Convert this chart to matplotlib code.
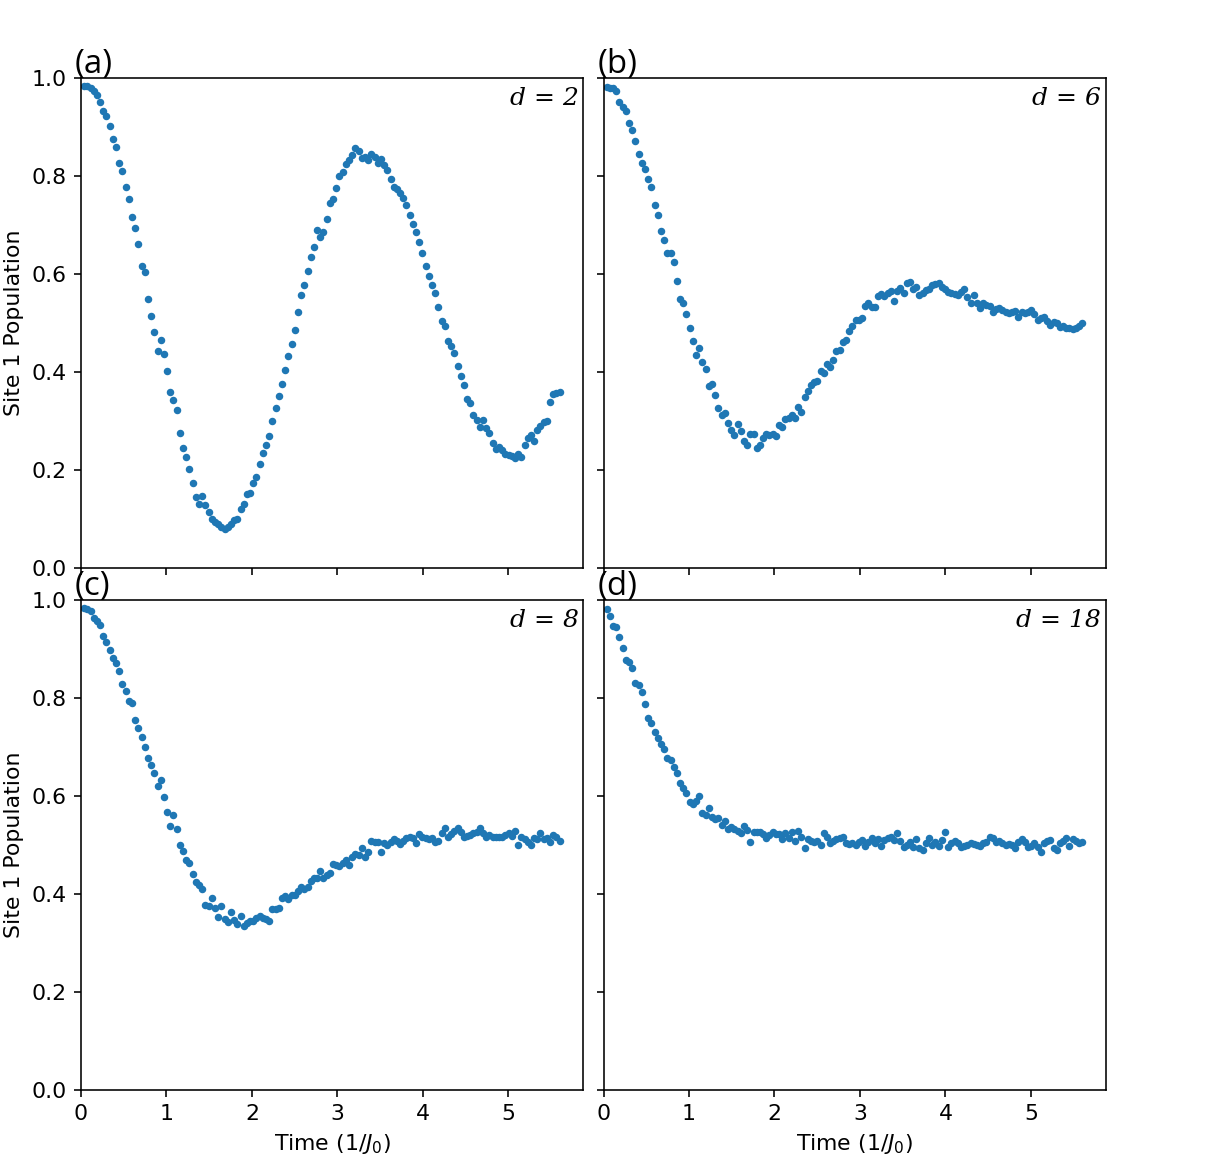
import matplotlib
matplotlib.use("Agg")
import matplotlib.pyplot as plt
import numpy as np

plt.rcParams['font.size'] = 11

# time grid (units of 1/J0), 150 samples
time = np.linspace(5.6 / 150, 5.6, 150)

# site 1 population
pop_d2 = [0.984, 0.984, 0.980, 0.973, 0.965, 0.952, 0.933, 0.922, 0.902, 0.876,
          0.860, 0.827, 0.810, 0.777, 0.754, 0.717, 0.695, 0.661, 0.616, 0.604,
          0.550, 0.515, 0.481, 0.442, 0.465, 0.437, 0.403, 0.360, 0.344, 0.322,
          0.276, 0.245, 0.227, 0.202, 0.174, 0.146, 0.130, 0.148, 0.128, 0.115,
          0.101, 0.095, 0.089, 0.084, 0.079, 0.084, 0.090, 0.099, 0.101, 0.120,
          0.130, 0.151, 0.153, 0.173, 0.186, 0.213, 0.235, 0.251, 0.269, 0.300,
          0.327, 0.352, 0.376, 0.405, 0.433, 0.457, 0.486, 0.523, 0.558, 0.577,
          0.606, 0.634, 0.656, 0.690, 0.675, 0.686, 0.712, 0.746, 0.754, 0.776,
          0.800, 0.809, 0.824, 0.833, 0.842, 0.858, 0.852, 0.836, 0.839, 0.833,
          0.845, 0.838, 0.827, 0.834, 0.822, 0.812, 0.795, 0.778, 0.773, 0.765,
          0.756, 0.741, 0.721, 0.703, 0.686, 0.665, 0.643, 0.616, 0.597, 0.578,
          0.561, 0.533, 0.504, 0.493, 0.464, 0.454, 0.438, 0.413, 0.393, 0.374,
          0.346, 0.336, 0.313, 0.302, 0.288, 0.303, 0.286, 0.276, 0.256, 0.244,
          0.248, 0.240, 0.232, 0.230, 0.229, 0.225, 0.233, 0.227, 0.252, 0.265,
          0.271, 0.259, 0.281, 0.290, 0.299, 0.300, 0.339, 0.355, 0.357, 0.359]

pop_d6 = [0.982, 0.980, 0.979, 0.974, 0.952, 0.941, 0.933, 0.908, 0.895, 0.871,
          0.846, 0.826, 0.814, 0.794, 0.778, 0.741, 0.720, 0.687, 0.670, 0.642,
          0.644, 0.624, 0.586, 0.549, 0.540, 0.518, 0.489, 0.464, 0.435, 0.450,
          0.420, 0.407, 0.371, 0.376, 0.353, 0.326, 0.313, 0.317, 0.297, 0.281,
          0.272, 0.295, 0.280, 0.259, 0.252, 0.274, 0.273, 0.246, 0.252, 0.266,
          0.274, 0.271, 0.274, 0.270, 0.292, 0.288, 0.304, 0.307, 0.312, 0.306,
          0.328, 0.318, 0.349, 0.361, 0.373, 0.380, 0.382, 0.402, 0.399, 0.416,
          0.410, 0.425, 0.443, 0.445, 0.462, 0.465, 0.484, 0.493, 0.506, 0.506,
          0.510, 0.535, 0.540, 0.533, 0.532, 0.556, 0.559, 0.555, 0.561, 0.565,
          0.546, 0.566, 0.571, 0.562, 0.581, 0.584, 0.569, 0.573, 0.557, 0.561,
          0.567, 0.569, 0.578, 0.580, 0.581, 0.574, 0.569, 0.564, 0.561, 0.559,
          0.557, 0.564, 0.569, 0.554, 0.541, 0.557, 0.540, 0.531, 0.541, 0.537,
          0.535, 0.523, 0.528, 0.530, 0.527, 0.523, 0.521, 0.523, 0.525, 0.513,
          0.523, 0.521, 0.523, 0.527, 0.518, 0.506, 0.510, 0.512, 0.504, 0.496,
          0.503, 0.501, 0.491, 0.493, 0.489, 0.490, 0.488, 0.490, 0.494, 0.501]

pop_d8 = [0.984, 0.982, 0.978, 0.964, 0.957, 0.949, 0.927, 0.915, 0.898, 0.881,
          0.872, 0.854, 0.829, 0.814, 0.794, 0.790, 0.754, 0.739, 0.720, 0.699,
          0.678, 0.663, 0.646, 0.621, 0.633, 0.597, 0.567, 0.539, 0.561, 0.533,
          0.500, 0.488, 0.469, 0.464, 0.441, 0.424, 0.418, 0.410, 0.378, 0.376,
          0.392, 0.371, 0.352, 0.376, 0.349, 0.342, 0.363, 0.347, 0.339, 0.356,
          0.335, 0.341, 0.345, 0.345, 0.350, 0.356, 0.350, 0.349, 0.345, 0.369,
          0.370, 0.372, 0.391, 0.395, 0.390, 0.398, 0.397, 0.406, 0.414, 0.410,
          0.415, 0.427, 0.432, 0.432, 0.446, 0.433, 0.439, 0.442, 0.461, 0.459,
          0.457, 0.463, 0.469, 0.459, 0.476, 0.481, 0.480, 0.493, 0.476, 0.486,
          0.509, 0.505, 0.505, 0.485, 0.503, 0.500, 0.507, 0.512, 0.508, 0.502,
          0.509, 0.514, 0.517, 0.514, 0.503, 0.522, 0.517, 0.514, 0.512, 0.514,
          0.507, 0.508, 0.525, 0.534, 0.517, 0.522, 0.529, 0.534, 0.527, 0.517,
          0.518, 0.520, 0.524, 0.527, 0.534, 0.524, 0.517, 0.520, 0.516, 0.516,
          0.517, 0.517, 0.520, 0.524, 0.518, 0.529, 0.500, 0.517, 0.512, 0.507,
          0.500, 0.514, 0.512, 0.525, 0.512, 0.514, 0.505, 0.520, 0.517, 0.509]

pop_d18 = [0.982, 0.967, 0.946, 0.944, 0.924, 0.901, 0.878, 0.874, 0.861, 0.830,
           0.827, 0.813, 0.787, 0.759, 0.748, 0.731, 0.718, 0.707, 0.696, 0.677,
           0.673, 0.660, 0.647, 0.626, 0.617, 0.605, 0.588, 0.583, 0.590, 0.599,
           0.565, 0.561, 0.576, 0.558, 0.552, 0.556, 0.541, 0.549, 0.533, 0.537,
           0.533, 0.529, 0.524, 0.539, 0.531, 0.507, 0.526, 0.527, 0.526, 0.522,
           0.515, 0.520, 0.527, 0.522, 0.523, 0.512, 0.524, 0.514, 0.527, 0.509,
           0.529, 0.517, 0.493, 0.512, 0.509, 0.505, 0.509, 0.500, 0.525, 0.517,
           0.503, 0.509, 0.512, 0.514, 0.516, 0.503, 0.502, 0.503, 0.500, 0.507,
           0.510, 0.497, 0.507, 0.514, 0.503, 0.512, 0.497, 0.510, 0.514, 0.517,
           0.510, 0.524, 0.509, 0.495, 0.500, 0.505, 0.495, 0.512, 0.493, 0.490,
           0.503, 0.514, 0.500, 0.505, 0.498, 0.510, 0.527, 0.495, 0.503, 0.509,
           0.503, 0.495, 0.498, 0.500, 0.503, 0.502, 0.500, 0.497, 0.503, 0.507,
           0.516, 0.514, 0.507, 0.509, 0.503, 0.500, 0.502, 0.500, 0.493, 0.507,
           0.512, 0.505, 0.495, 0.498, 0.503, 0.495, 0.486, 0.503, 0.509, 0.510,
           0.493, 0.490, 0.503, 0.509, 0.514, 0.498, 0.512, 0.509, 0.503, 0.507]

panel_tags = ["(a)", "(b)", "(c)", "(d)"]
d_labels = ["d = 2", "d = 6", "d = 8", "d = 18"]
series = [pop_d2, pop_d6, pop_d8, pop_d18]

fig = plt.figure(figsize=(1219 / 144, 1172 / 144), dpi=144)
axes = fig.subplots(2, 2, sharex=True, sharey=True)
fig.subplots_adjust(left=0.0664, right=0.9073, top=0.9334, bottom=0.070,
                    wspace=0.04, hspace=0.065)

for ax, pop, tag, lab in zip(axes.flat, series, panel_tags, d_labels):
    ax.plot(time, pop, '.', color='C0', markersize=5.5)
    ax.set_xlim(left=0)
    ax.set_ylim(0, 1)
    ax.text(-0.012, 1.011, tag, transform=ax.transAxes, ha='left', va='baseline',
            fontsize=16.5, family='Open Sans')
    ax.text(0.99, 0.945, lab, transform=ax.transAxes, ha='right', va='baseline',
            fontsize=12.5, family='DejaVu Serif', style='italic')

for ax in axes[:, 0]:
    ax.set_ylabel("Site 1 Population")
for ax in axes[1, :]:
    ax.set_xlabel("Time (1/$J_0$)")

fig.savefig("out.png", dpi=144)
